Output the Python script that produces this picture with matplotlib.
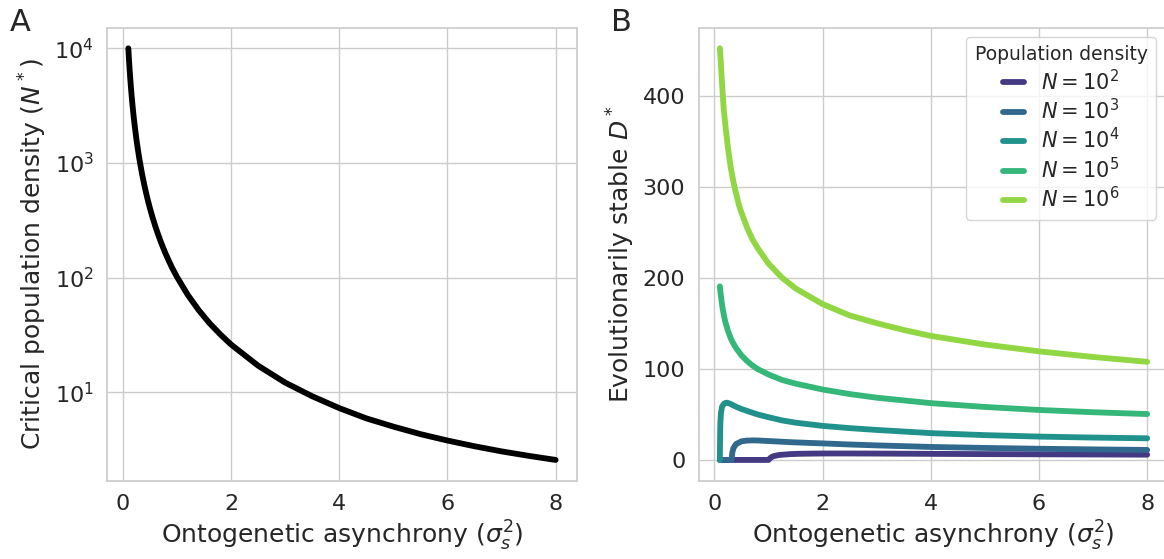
import matplotlib
matplotlib.use("Agg")
import matplotlib.pyplot as plt
import seaborn as sns

sns.set_theme(style="whitegrid")

# panel A: critical population density vs ontogenetic asynchrony
asyn_a = [0.1, 0.105, 0.11, 0.115, 0.12, 0.125, 0.135, 0.14, 0.15, 0.16, 0.175, 0.19, 0.2,
          0.22, 0.25, 0.27, 0.3, 0.35, 0.4, 0.45, 0.5, 0.55, 0.6, 0.65, 0.7, 0.75,
          0.8, 0.9, 1.0, 1.2, 1.4, 1.6, 1.8, 2.0, 2.5, 3.0, 3.5, 4.0, 4.5, 5.0, 5.5,
          6.0, 6.5, 7.0, 7.5, 8.0]
crit_n = [10000, 9071, 8265, 7562, 6945, 6401, 5488, 5103, 4445, 3907, 3266, 2771, 2500,
          2067, 1600, 1373, 1112, 817, 626, 495, 401, 331.6, 279, 237.7, 205, 178.8,
          157, 124, 101, 70.4, 52, 40, 31.9, 26, 17, 12.1, 9.2, 7.25, 5.9, 5.0, 4.3,
          3.78, 3.37, 3.04, 2.78, 2.56]

# panel B: evolutionarily stable D* for each population density
labels_b = [r"$N = 10^2$", r"$N = 10^3$", r"$N = 10^4$", r"$N = 10^5$", r"$N = 10^6$"]

x_n2 = [0.1, 1.0, 1.03, 1.06, 1.1, 1.2, 1.4, 1.6, 2.0, 2.5, 3.0, 4.0, 5.0, 6.0, 7.0, 8.0]
d_n2 = [0, 0, 2.0, 3.3, 4.3, 5.5, 6.4, 6.8, 7.1, 7.1, 7.0, 6.7, 6.4, 6.2, 6.0, 5.8]

x_n3 = [0.1, 0.316, 0.33, 0.35, 0.4, 0.5, 0.6, 0.7, 0.8, 1.0, 1.25, 1.5, 2.0, 2.5, 3.0,
        4.0, 5.0, 6.0, 7.0, 8.0]
d_n3 = [0, 0, 8, 13, 17.5, 20.5, 21.3, 21.5, 21.4, 20.8, 20.0, 19.3, 18.2, 17.0, 16.0,
        14.3, 13.2, 12.3, 11.6, 11.0]

x_n4 = [0.1, 0.102, 0.105, 0.11, 0.12, 0.14, 0.17, 0.2, 0.23, 0.27, 0.3, 0.4, 0.5, 0.6,
        0.8, 1.0, 1.25, 1.5, 2.0, 2.5, 3.0, 4.0, 5.0, 6.0, 7.0, 8.0]
d_n4 = [0, 15, 30, 42, 52, 58.5, 61.5, 62.7, 63, 62.3, 61.5, 58.5, 56, 54,
        50, 47, 43.5, 41, 37.5, 35, 33, 29.5, 27.3, 25.7, 24.6, 23.8]

x_n5 = [0.1, 0.11, 0.12, 0.135, 0.15, 0.175, 0.2, 0.25, 0.3, 0.35, 0.4, 0.5, 0.6, 0.7,
        0.8, 1.0, 1.25, 1.5, 2.0, 2.5, 3.0, 4.0, 5.0, 6.0, 7.0, 8.0]
d_n5 = [191, 185, 180, 173, 167, 159, 152, 142, 134, 128, 123, 115, 109, 104,
        100, 94, 88, 84, 77.5, 72.5, 68.5, 62.5, 58.3, 55, 52.5, 50.5]

x_n6 = [0.1, 0.11, 0.12, 0.13, 0.14, 0.15, 0.17, 0.2, 0.25, 0.3, 0.35, 0.4, 0.45, 0.5,
        0.6, 0.7, 0.8, 1.0, 1.25, 1.5, 2.0, 2.5, 3.0, 3.5, 4.0, 5.0, 6.0, 7.0, 8.0]
d_n6 = [453, 444, 435, 424, 414, 405, 387, 369, 343, 322, 306, 293, 281, 272,
        256, 243, 233, 216, 200.5, 188.7, 171.5, 159, 150.5, 143, 136.5, 127, 119.5,
        113.3, 108]

series_b = [(x_n2, d_n2), (x_n3, d_n3), (x_n4, d_n4), (x_n5, d_n5), (x_n6, d_n6)]

fig = plt.figure(figsize=(11.64, 5.59), dpi=100)
ax1 = fig.add_axes([0.0919, 0.1404, 0.4038, 0.81])
ax2 = fig.add_axes([0.6001, 0.1404, 0.4038, 0.81])

ax1.plot(asyn_a, crit_n, color="black", lw=4.2, solid_capstyle="round")
ax1.set_yscale("log")
ax1.set_ylabel(r"Critical population density ($N^*$)", fontsize=18)
ax1.set_xlabel(r"Ontogenetic asynchrony ($\sigma_s^2$)", fontsize=18)

colors = sns.color_palette("viridis", 5)
for (xs, ys), lab, col in zip(series_b, labels_b, colors):
    ax2.plot(xs, ys, color=col, lw=4.2, label=lab, solid_capstyle="round")
ax2.set_ylabel(r"Evolutionarily stable $D^*$", fontsize=18)
ax2.set_xlabel(r"Ontogenetic asynchrony ($\sigma_s^2$)", fontsize=18)
ax2.set_yticks([0, 100, 200, 300, 400])
ax2.legend(title="Population density", loc="upper right", fontsize=15,
           title_fontsize=13.5, handlelength=1.0, labelspacing=0.2,
           borderaxespad=0, bbox_to_anchor=(0.9931, 0.9338),
           bbox_transform=fig.transFigure)

for ax in (ax1, ax2):
    ax.set_xticks([0, 2, 4, 6, 8])
    ax.tick_params(labelsize=16)
    ax.minorticks_off()

fig.text(0.008, 0.985, "A", fontsize=22, va="top", color="#262626")
fig.text(0.525, 0.985, "B", fontsize=22, va="top", color="#262626")

fig.savefig("out.png", dpi=100)
